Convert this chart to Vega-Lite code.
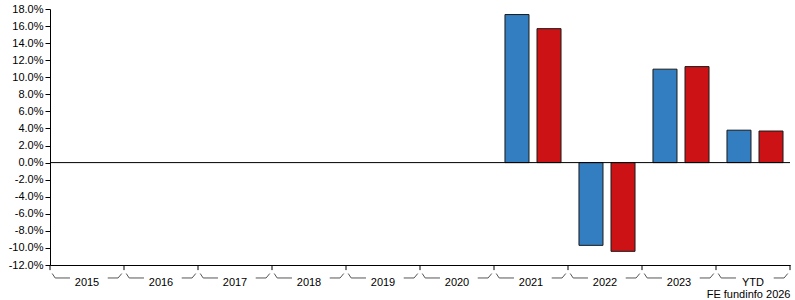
{
  "$schema": "https://vega.github.io/schema/vega-lite/v6.json",
  "width": 740,
  "height": 256,
  "autosize": {"type": "none"},
  "padding": {"left": 50, "top": 9, "right": 5, "bottom": 35},
  "background": "white",
  "config": {
    "view": {"stroke": null},
    "font": "Liberation Sans",
    "axis": {"labelFont": "Liberation Sans", "labelFontSize": 11, "labelColor": "#000000", "domainColor": "#000000", "tickColor": "#000000"}
  },
  "title": {"text": "FE fundinfo 2026", "orient": "bottom", "anchor": "end", "fontSize": 11, "fontWeight": "normal", "font": "Liberation Sans", "color": "#000000", "offset": 2},
  "datasets": {
    "bars": [
      {"year": "2021", "series": "Fund", "value": 17.35},
      {"year": "2021", "series": "Sector", "value": 15.7},
      {"year": "2022", "series": "Fund", "value": -9.7},
      {"year": "2022", "series": "Sector", "value": -10.4},
      {"year": "2023", "series": "Fund", "value": 10.95},
      {"year": "2023", "series": "Sector", "value": 11.25},
      {"year": "YTD", "series": "Fund", "value": 3.8},
      {"year": "YTD", "series": "Sector", "value": 3.7}
    ],
    "cats": [
      {"year": "2015"}, {"year": "2016"}, {"year": "2017"}, {"year": "2018"}, {"year": "2019"},
      {"year": "2020"}, {"year": "2021"}, {"year": "2022"}, {"year": "2023"}, {"year": "YTD"}
    ]
  },
  "encoding": {
    "x": {
      "field": "year", "type": "nominal",
      "scale": {"domain": ["2015","2016","2017","2018","2019","2020","2021","2022","2023","YTD"], "paddingInner": 0, "paddingOuter": 0},
      "axis": {"title": null, "labelAngle": 0, "ticks": false, "labelPadding": 11, "domain": true, "labelColor": "#000000", "domainColor": "#000000"}
    }
  },
  "layer": [
    {
      "data": {"name": "bars"},
      "mark": {"type": "bar", "stroke": "#1a1a1a", "strokeWidth": 1},
      "encoding": {
        "xOffset": {"field": "series", "type": "nominal", "scale": {"paddingInner": 0.25, "paddingOuter": 0.28, "range": [2, 76]}},
        "y": {
          "field": "value", "type": "quantitative",
          "scale": {"domain": [-12, 18], "nice": false, "zero": false},
          "axis": {"title": null, "values": [-12,-10,-8,-6,-4,-2,0,2,4,6,8,10,12,14,16,18], "tickCount": 20, "labelOverlap": false, "labelFlush": false, "labelExpr": "(datum.value < 0 ? '-' : '') + format(abs(datum.value), '.1f') + '%'", "tickSize": 5, "labelPadding": 2, "grid": false, "labelColor": "#000000", "tickColor": "#000000", "domainColor": "#000000"}
        },
        "color": {"field": "series", "type": "nominal", "scale": {"domain": ["Fund", "Sector"], "range": ["#337ec1", "#cd1215"]}, "legend": null}
      }
    },
    {
      "data": {"values": [{}]},
      "mark": {"type": "rule", "color": "#000000", "strokeWidth": 1},
      "encoding": {"x": null, "y": {"datum": 0}}
    },
    {
      "data": {"name": "cats"},
      "mark": {"type": "rule", "color": "#000000", "strokeWidth": 1},
      "encoding": {"x": {"field": "year", "type": "nominal", "bandPosition": 0}, "y": {"datum": -12}, "y2": {"datum": -12.6}}
    },
    {
      "data": {"values": [{"year": "YTD"}]},
      "mark": {"type": "rule", "color": "#000000", "strokeWidth": 1},
      "encoding": {"x": {"field": "year", "type": "nominal", "bandPosition": 1}, "y": {"datum": -12}, "y2": {"datum": -12.6}}
    },
    {
      "data": {"name": "cats"},
      "mark": {"type": "rule", "color": "#555555", "strokeWidth": 1},
      "encoding": {"x": {"field": "year", "type": "nominal", "bandPosition": 0.03}, "x2": {"field": "year", "bandPosition": 0.07}, "y": {"datum": -13.0}, "y2": {"datum": -13.52}}
    },
    {
      "data": {"name": "cats"},
      "mark": {"type": "rule", "color": "#555555", "strokeWidth": 1},
      "encoding": {"x": {"field": "year", "type": "nominal", "bandPosition": 0.07}, "x2": {"field": "year", "bandPosition": 0.27}, "y": {"datum": -13.52}}
    },
    {
      "data": {"name": "cats"},
      "mark": {"type": "rule", "color": "#555555", "strokeWidth": 1},
      "encoding": {"x": {"field": "year", "type": "nominal", "bandPosition": 0.78}, "x2": {"field": "year", "bandPosition": 0.92}, "y": {"datum": -13.52}}
    },
    {
      "data": {"name": "cats"},
      "mark": {"type": "rule", "color": "#555555", "strokeWidth": 1},
      "encoding": {"x": {"field": "year", "type": "nominal", "bandPosition": 0.92}, "x2": {"field": "year", "bandPosition": 0.97}, "y": {"datum": -13.52}, "y2": {"datum": -13.0}}
    }
  ]
}
